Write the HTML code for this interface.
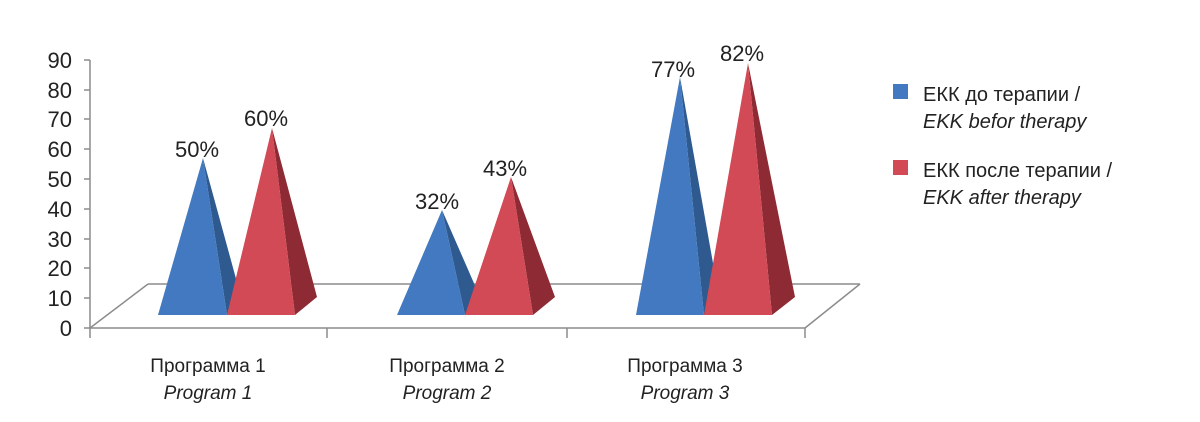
<!DOCTYPE html>
<html><head><meta charset="utf-8"><style>
body{margin:0;background:#fff;}
svg{display:block;font-family:"Liberation Sans",sans-serif;}
</style></head><body>
<svg width="1200" height="422" viewBox="0 0 1200 422">
<g stroke="#8c8c8c" stroke-width="1.5" fill="none">
<line x1="90" y1="60" x2="90" y2="338"/>
<line x1="84" y1="328" x2="805" y2="328"/>
<line x1="90" y1="328" x2="148" y2="284"/>
<line x1="148" y1="284" x2="860" y2="284"/>
<line x1="805" y1="328" x2="860" y2="284"/>
<line x1="327" y1="328" x2="327" y2="338"/>
<line x1="567" y1="328" x2="567" y2="338"/>
<line x1="805" y1="328" x2="805" y2="338"/>
<g>
<line x1="84" y1="60" x2="90" y2="60"/><line x1="84" y1="90" x2="90" y2="90"/><line x1="84" y1="119" x2="90" y2="119"/><line x1="84" y1="149" x2="90" y2="149"/><line x1="84" y1="179" x2="90" y2="179"/><line x1="84" y1="209" x2="90" y2="209"/><line x1="84" y1="239" x2="90" y2="239"/><line x1="84" y1="268" x2="90" y2="268"/><line x1="84" y1="298" x2="90" y2="298"/>
</g>
</g>
<g font-size="22" fill="#222" text-anchor="end">
<text x="72" y="68">90</text><text x="72" y="98">80</text><text x="72" y="127">70</text><text x="72" y="157">60</text><text x="72" y="187">50</text><text x="72" y="217">40</text><text x="72" y="247">30</text><text x="72" y="276">20</text><text x="72" y="306">10</text><text x="72" y="336">0</text>
</g>
<g>
<polygon points="203,158 227,315 241,297" fill="#2f5a8f"/><polygon points="158,315 227,315 203,158" fill="#4279c0"/>
<polygon points="272,128 295,315 317,297" fill="#8e2a33"/><polygon points="227,315 295,315 272,128" fill="#d24a55"/>
<polygon points="442,210 465,315 480,297" fill="#2f5a8f"/><polygon points="397,315 465,315 442,210" fill="#4279c0"/>
<polygon points="511,177 533,315 555,297" fill="#8e2a33"/><polygon points="465,315 533,315 511,177" fill="#d24a55"/>
<polygon points="680,77 704,315 719,297" fill="#2f5a8f"/><polygon points="636,315 704,315 680,77" fill="#4279c0"/>
<polygon points="748,63 772,315 795,297" fill="#8e2a33"/><polygon points="704,315 772,315 748,63" fill="#d24a55"/>
</g>
<g font-size="22" fill="#222" text-anchor="middle">
<text x="197" y="157">50%</text><text x="266" y="126">60%</text>
<text x="437" y="209">32%</text><text x="505" y="176">43%</text>
<text x="673" y="77">77%</text><text x="742" y="61">82%</text>
</g>
<g font-size="19" fill="#222" text-anchor="middle">
<text x="208" y="372">Программа 1</text><text x="208" y="399" font-style="italic">Program 1</text>
<text x="447" y="372">Программа 2</text><text x="447" y="399" font-style="italic">Program 2</text>
<text x="685" y="372">Программа 3</text><text x="685" y="399" font-style="italic">Program 3</text>
</g>
<rect x="893" y="84" width="15" height="15" fill="#4279c0"/>
<rect x="893" y="160" width="15" height="15" fill="#d24a55"/>
<g font-size="20" fill="#222">
<text x="923" y="101">ЕКК до терапии /</text>
<text x="923" y="128" font-style="italic">EKK befor therapy</text>
<text x="923" y="177">ЕКК после терапии /</text>
<text x="923" y="204" font-style="italic">EKK after therapy</text>
</g>
</svg>
</body></html>
